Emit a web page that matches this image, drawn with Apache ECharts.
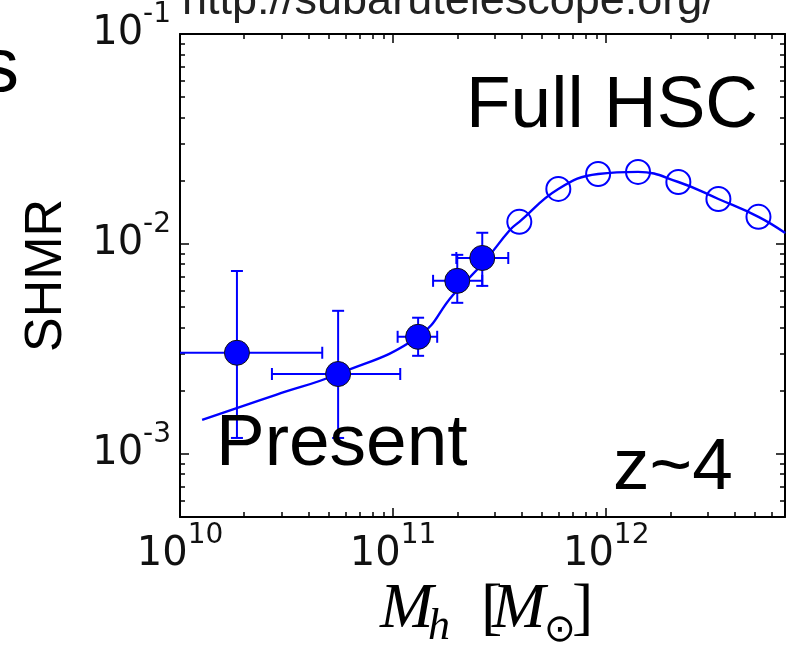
<!DOCTYPE html>
<html><head><meta charset="utf-8">
<script src="https://cdn.jsdelivr.net/npm/echarts@6/dist/echarts.min.js"></script>
<style>html,body{margin:0;padding:0;background:#fff}#c{width:798px;height:648px}</style>
</head><body><div id="c"></div>
<script>
// ---- data (real units) ----
const xTickExps = [10, 11, 12];
const yTickExps = [-3, -2, -1];
const xMin = 1e10, xMax = 6.9e12, yMin = 5e-4, yMax = 1e-1;

const presentMh     = [1.85e10, 5.52e10, 1.31e11, 2.0e11, 2.62e11];
const presentSHMR   = [3.03e-3, 2.40e-3, 3.61e-3, 6.67e-3, 8.57e-3];
const presentMhLo   = [8e9, 2.70e10, 1.05e11, 1.54e11, 1.98e11];
const presentMhHi   = [4.65e10, 1.08e11, 1.61e11, 2.62e11, 3.47e11];
const presentSHMRLo = [1.19e-3, 1.19e-3, 2.93e-3, 5.24e-3, 6.31e-3];
const presentSHMRHi = [7.43e-3, 4.80e-3, 4.45e-3, 8.87e-3, 1.13e-2];

const hscMh   = [3.91e11, 5.96e11, 9.16e11, 1.41e12, 2.18e12, 3.36e12, 5.18e12];
const hscSHMR = [1.274e-2, 1.828e-2, 2.153e-2, 2.203e-2, 1.972e-2, 1.637e-2, 1.346e-2];

const curveMh   = [1.27e10, 2.82e10, 5.52e10, 1.31e11, 1.91e11, 2.65e11, 3.54e11, 3.91e11, 5.96e11, 9.16e11, 1.41e12, 2.18e12, 3.36e12, 5.18e12, 6.92e12];
const curveSHMR = [1.45e-3, 1.91e-3, 2.40e-3, 3.61e-3, 5.71e-3, 8.13e-3, 1.167e-2, 1.274e-2, 1.828e-2, 2.153e-2, 2.203e-2, 1.972e-2, 1.637e-2, 1.346e-2, 1.127e-2];

// ---- build ----
const L = Math.log10;
const xLo = L(xMin), xHi = L(xMax), yLo = L(yMin), yHi = L(yMax);
function minorTicks(lo, hi) {
  const out = [];
  for (let d = Math.floor(lo); d <= Math.ceil(hi); d++)
    for (let k = 2; k <= 9; k++) { const v = d + L(k); if (v > lo && v < hi) out.push(v); }
  return out;
}
const xMinor = minorTicks(xLo, xHi), yMinor = minorTicks(yLo, yHi);
const AX = '#000';
const rich = {
  b: { fontSize: 40, fontFamily: 'DejaVu Sans', color: '#111' },
  s: { fontSize: 28, fontFamily: 'DejaVu Sans', color: '#111', padding: [0, 0, 38, 0] }
};
function axis(kind, grid, pos, ticks, len, labels, line, extra) {
  const isX = kind === 'x';
  return Object.assign({
    type: 'value', gridIndex: grid, position: pos,
    min: isX ? xLo : yLo, max: isX ? xHi : yHi,
    axisLine: { show: line, onZero: false, lineStyle: { color: AX, width: 2 } },
    axisTick: { show: true, inside: true, length: len, customValues: ticks, lineStyle: { color: AX, width: 1.5 } },
    axisLabel: labels ? {
      show: true, customValues: ticks, margin: isX ? 5 : 9,
      formatter: v => '{b|10}{s|' + Math.round(v) + '}', rich: rich
    } : { show: false },
    splitLine: { show: false }
  }, extra || {});
}

const chart = echarts.init(document.getElementById('c'), null, { renderer: 'canvas' });
const gridRect = { left: 180, top: 34, width: 605, height: 483 };
chart.setOption({
  animation: false,
  backgroundColor: '#fff',
  grid: [Object.assign({}, gridRect), Object.assign({}, gridRect)],
  xAxis: [
    axis('x', 0, 'bottom', xTickExps, 9, true, true),
    axis('x', 0, 'top', xTickExps, 9, false, true),
    axis('x', 1, 'bottom', xMinor, 5, false, false),
    axis('x', 1, 'top', xMinor, 5, false, false)
  ],
  yAxis: [
    axis('y', 0, 'left', yTickExps, 9, true, true, {
      name: 'SHMR', nameLocation: 'middle', nameRotate: 90, nameGap: 107,
      nameTextStyle: { fontSize: 52, fontFamily: 'Liberation Sans', color: '#000' }
    }),
    axis('y', 0, 'right', yTickExps, 9, false, true),
    axis('y', 1, 'left', yMinor, 5, false, false),
    axis('y', 1, 'right', yMinor, 5, false, false)
  ],
  series: [
    {
      type: 'line', xAxisIndex: 0, yAxisIndex: 0, smooth: 0.45, showSymbol: false, symbol: 'none',
      lineStyle: { color: '#0000ff', width: 2.4 }, z: 2,
      data: curveMh.map((x, i) => [L(x), L(curveSHMR[i])])
    },
    {
      type: 'custom', xAxisIndex: 0, yAxisIndex: 0, clip: true, z: 3,
      encode: { x: 0, y: 1 },
      data: presentMh.map((x, i) => [L(x), L(presentSHMR[i]), L(presentMhLo[i]), L(presentMhHi[i]), L(presentSHMRLo[i]), L(presentSHMRHi[i])]),
      renderItem: function (params, api) {
        const x = api.value(0), y = api.value(1);
        const a = api.coord([api.value(2), y]), b = api.coord([api.value(3), y]);
        const c = api.coord([x, api.value(4)]), d = api.coord([x, api.value(5)]);
        const st = { stroke: '#0000ff', lineWidth: 2 };
        const cap = 6;
        const ln = (x1, y1, x2, y2) => ({ type: 'line', shape: { x1, y1, x2, y2 }, style: st });
        return { type: 'group', children: [
          ln(a[0], a[1], b[0], b[1]),
          ln(a[0], a[1] - cap, a[0], a[1] + cap),
          ln(b[0], b[1] - cap, b[0], b[1] + cap),
          ln(c[0], c[1], d[0], d[1]),
          ln(c[0] - cap, c[1], c[0] + cap, c[1]),
          ln(d[0] - cap, d[1], d[0] + cap, d[1])
        ] };
      }
    },
    {
      type: 'scatter', xAxisIndex: 0, yAxisIndex: 0, symbol: 'circle', symbolSize: 25, z: 4,
      itemStyle: { color: '#0000ff', borderColor: '#111', borderWidth: 1, opacity: 1 },
      data: presentMh.map((x, i) => [L(x), L(presentSHMR[i])])
    },
    {
      type: 'scatter', xAxisIndex: 0, yAxisIndex: 0, symbol: 'circle', symbolSize: 24, z: 4,
      itemStyle: { color: 'rgba(0,0,0,0)', borderColor: '#0000ff', borderWidth: 2, opacity: 1 },
      data: hscMh.map((x, i) => [L(x), L(hscSHMR[i])])
    }
  ],
  graphic: [
    { type: 'text', z: 100, x: 182, y: 2, style: { text: 'http://subarutelescope.org/', font: '45px "Liberation Sans"', fill: '#222', align: 'left', verticalAlign: 'middle' } },
    { type: 'text', z: 100, x: 19, y: 70, style: { text: 's', font: '76px "Liberation Sans"', fill: '#000', align: 'right', verticalAlign: 'middle' } },
    { type: 'text', z: 100, x: 466, y: 107, style: { text: 'Full HSC', font: '73px "Liberation Sans"', fill: '#000', align: 'left', verticalAlign: 'middle' } },
    { type: 'text', z: 100, x: 216, y: 445, style: { text: 'Present', font: '73px "Liberation Sans"', fill: '#000', align: 'left', verticalAlign: 'middle' } },
    { type: 'text', z: 100, x: 613, y: 469, style: { text: 'z~4', font: '73px "Liberation Sans"', fill: '#000', align: 'left', verticalAlign: 'middle' } },
    { type: 'text', z: 100, x: 380, y: 610, style: { text: 'M', font: 'italic 64px "Liberation Serif"', fill: '#000', align: 'left', verticalAlign: 'middle' } },
    { type: 'text', z: 100, x: 428, y: 627, style: { text: 'h', font: 'italic 44px "Liberation Serif"', fill: '#000', align: 'left', verticalAlign: 'middle' } },
    { type: 'text', z: 100, x: 481, y: 610, style: { text: '[', font: '64px "Liberation Serif"', fill: '#000', align: 'left', verticalAlign: 'middle' } },
    { type: 'text', z: 100, x: 492, y: 610, style: { text: 'M', font: 'italic 64px "Liberation Serif"', fill: '#000', align: 'left', verticalAlign: 'middle' } },
    { type: 'text', z: 100, x: 560, y: 631, style: { text: '\u2299', font: '38px "DejaVu Sans"', fill: '#000', align: 'center', verticalAlign: 'middle' } },
    { type: 'text', z: 100, x: 572, y: 610, style: { text: ']', font: '64px "Liberation Serif"', fill: '#000', align: 'left', verticalAlign: 'middle' } }
  ]
});
</script>
</body></html>
